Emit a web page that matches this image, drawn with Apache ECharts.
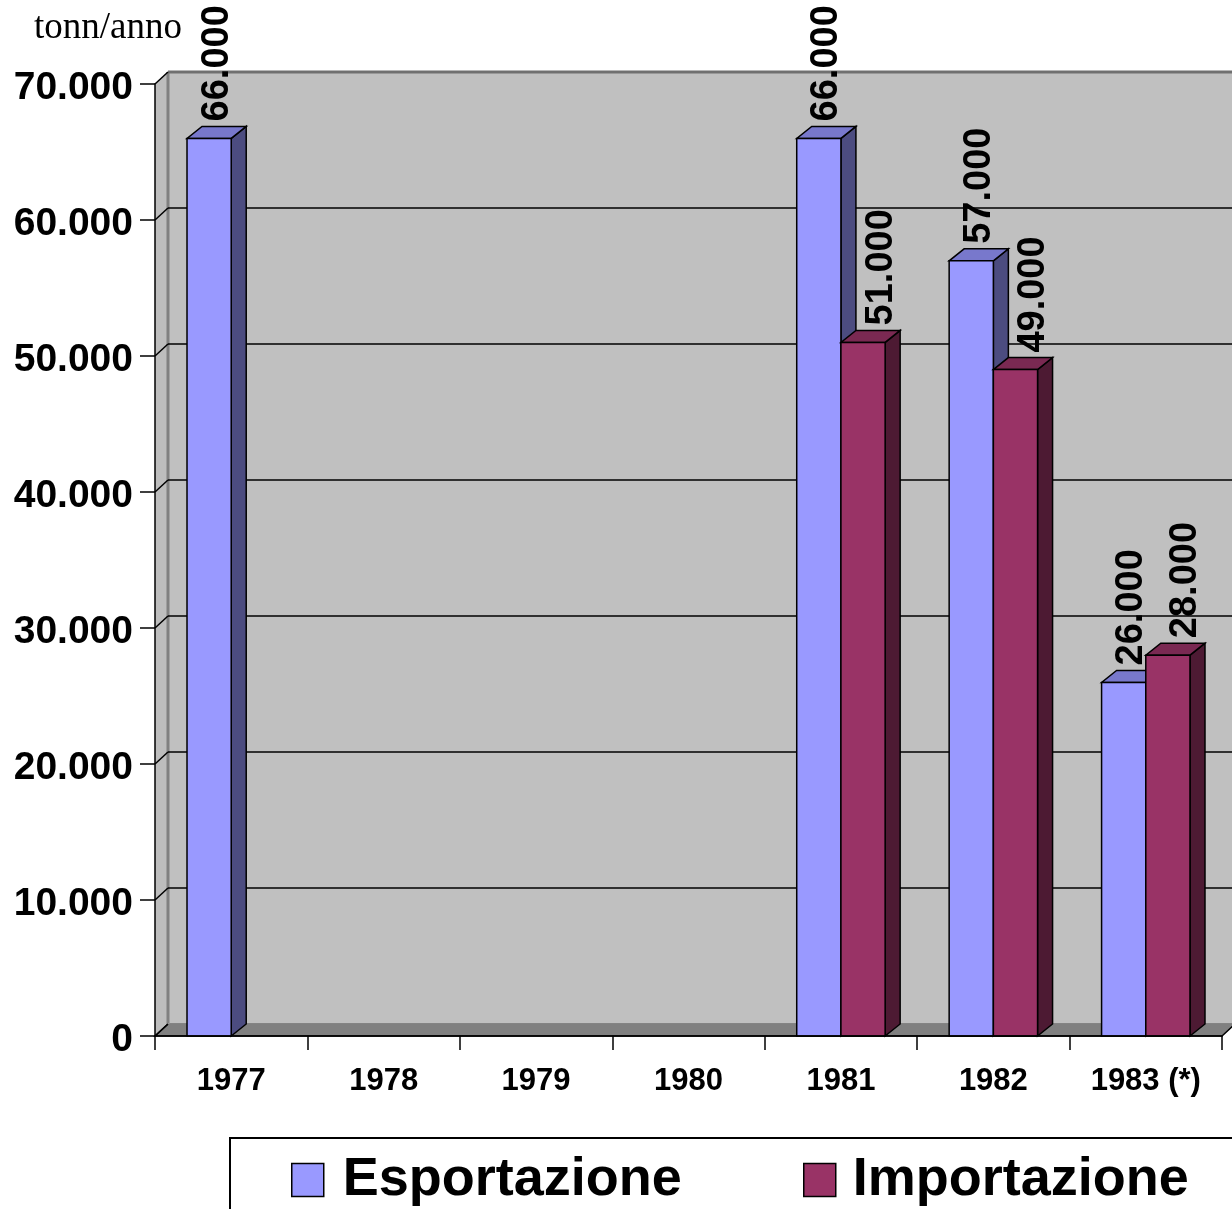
<!DOCTYPE html>
<html>
<head>
<meta charset="utf-8">
<title>Esportazione / Importazione</title>
<script src="https://cdn.jsdelivr.net/npm/echarts@6/dist/echarts.min.js"></script>
<style>
  html, body { margin: 0; padding: 0; background: #fff; overflow: hidden; }
  #chart { width: 1232px; height: 1209px; }
</style>
</head>
<body>
<div id="chart"></div>
<script>
// Annual tonnage by year
const categories = ['1977', '1978', '1979', '1980', '1981', '1982', '1983 (*)'];
const esportazione = [66000, null, null, null, 66000, 57000, 26000];
const importazione = [null, null, null, null, 51000, 49000, 28000];
const yTicks = [0, 10000, 20000, 30000, 40000, 50000, 60000, 70000];
const unitLabel = 'tonn/anno';

const SANS = '"Liberation Sans", Arial, sans-serif';
const SERIF = '"Liberation Serif", "Times New Roman", serif';

// depth of the walls and of the boxes (pseudo 3D)
const WALL_DX = 13, WALL_DY = -12;
const BAR_DX = 15, BAR_DY = -12;
const BAR_FRAC = 0.29;

const palette = {
  esp: { front: '#9999ff', top: '#7878cc', side: '#4c4c80' },
  imp: { front: '#993366', top: '#7a2952', side: '#4d1a33' }
};

// Italian thousands separator
function fmt(v) {
  return String(v).replace(/\B(?=(\d{3})+(?!\d))/g, '.');
}

function toPairs(arr) {
  const out = [];
  arr.forEach((v, i) => { if (v != null) out.push([i, v]); });
  return out;
}

// Walls, floor and the grid lines on the back wall
function renderFrame(params, api) {
  const cs = params.coordSys;
  const xl = cs.x, xr = cs.x + cs.width;
  const y0 = api.coord([0, yTicks[0]])[1];
  const yMax = api.coord([0, yTicks[yTicks.length - 1]])[1];
  const children = [];
  // back wall
  children.push({
    type: 'polygon',
    shape: { points: [[xl + WALL_DX, yMax + WALL_DY], [xr + WALL_DX, yMax + WALL_DY], [xr + WALL_DX, y0 + WALL_DY], [xl + WALL_DX, y0 + WALL_DY]] },
    style: { fill: '#c0c0c0' }
  });
  // side wall
  children.push({
    type: 'polygon',
    shape: { points: [[xl, y0], [xl, yMax], [xl + WALL_DX, yMax + WALL_DY], [xl + WALL_DX, y0 + WALL_DY]] },
    style: { fill: '#bdbdbd' }
  });
  // floor
  children.push({
    type: 'polygon',
    shape: { points: [[xl, y0], [xr, y0], [xr + WALL_DX, y0 + WALL_DY], [xl + WALL_DX, y0 + WALL_DY]] },
    style: { fill: '#808080', stroke: '#000', lineWidth: 1.5 }
  });
  // inner corner edges
  children.push({
    type: 'line',
    shape: { x1: xl + WALL_DX, y1: yMax + WALL_DY, x2: xl + WALL_DX, y2: y0 + WALL_DY },
    style: { stroke: '#808080', lineWidth: 3 }
  });
  children.push({
    type: 'line',
    shape: { x1: xl + WALL_DX, y1: y0 + WALL_DY, x2: xr + WALL_DX, y2: y0 + WALL_DY },
    style: { stroke: '#a0a0a0', lineWidth: 1.5 }
  });
  yTicks.forEach((t, k) => {
    const y = api.coord([0, t])[1];
    const isTop = k === yTicks.length - 1;
    if (t !== 0) {
      children.push({
        type: 'line',
        shape: { x1: xl + WALL_DX, y1: y + WALL_DY, x2: xr + WALL_DX, y2: y + WALL_DY },
        style: { stroke: isTop ? '#707070' : '#000', lineWidth: isTop ? 3 : 1.5 }
      });
    }
    children.push({
      type: 'line',
      shape: { x1: xl, y1: y, x2: xl + WALL_DX, y2: y + WALL_DY },
      style: { stroke: '#000', lineWidth: 1.5 }
    });
  });
  return { type: 'group', children: children };
}

// Box-shaped bars with a value label standing on top
function makeBarRenderer(side, col) {
  return function (params, api) {
    const idx = api.value(0), v = api.value(1);
    const top = api.coord([idx, v]);
    const base = api.coord([idx, 0]);
    const w = api.size([1, 0])[0] * BAR_FRAC;
    const x0 = side === 0 ? top[0] - w : top[0];
    const x1 = x0 + w;
    const yt = top[1], yb = base[1];
    const edge = { stroke: '#000', lineWidth: 1.5, lineJoin: 'miter' };
    return {
      type: 'group',
      children: [
        {
          type: 'polygon',
          shape: { points: [[x1, yt], [x1 + BAR_DX, yt + BAR_DY], [x1 + BAR_DX, yb + BAR_DY], [x1, yb]] },
          style: Object.assign({ fill: col.side }, edge)
        },
        {
          type: 'polygon',
          shape: { points: [[x0, yt], [x1, yt], [x1 + BAR_DX, yt + BAR_DY], [x0 + BAR_DX, yt + BAR_DY]] },
          style: Object.assign({ fill: col.top }, edge)
        },
        {
          type: 'rect',
          shape: { x: x0, y: yt, width: w, height: yb - yt },
          style: Object.assign({ fill: col.front }, edge)
        },
        {
          type: 'text',
          x: (x0 + x1) / 2 + (side === 0 ? 8 : 18),
          y: yt - 17,
          rotation: Math.PI / 2,
          z2: 100,
          style: {
            text: fmt(v),
            fill: '#000',
            font: 'bold 38px ' + SANS,
            align: 'left',
            verticalAlign: 'middle'
          }
        }
      ]
    };
  };
}

const chart = echarts.init(document.getElementById('chart'), null, { renderer: 'canvas' });

chart.setOption({
  backgroundColor: '#ffffff',
  animation: false,
  title: {
    text: unitLabel,
    left: 29,
    top: 5,
    textStyle: { fontFamily: SERIF, fontWeight: 'normal', fontSize: 37, color: '#000' }
  },
  grid: { left: 155, right: 10, top: 84, bottom: 173 },
  xAxis: {
    type: 'category',
    data: categories,
    z: 10,
    axisLine: { show: true, lineStyle: { color: '#000', width: 1.5 } },
    axisTick: { show: true, interval: 0, length: 14, lineStyle: { color: '#000', width: 1.5 } },
    axisLabel: { interval: 0, margin: 30, fontFamily: SANS, fontWeight: 'bold', fontSize: 31, color: '#000' },
    splitLine: { show: false }
  },
  yAxis: {
    type: 'value',
    min: 0,
    max: 70000,
    interval: 10000,
    z: 10,
    axisLine: { show: true, lineStyle: { color: '#000', width: 1.5 } },
    axisTick: { show: true, length: 15, lineStyle: { color: '#000', width: 1.5 } },
    axisLabel: {
      margin: 22,
      color: '#000',
      formatter: v => '{n|' + fmt(v) + '}',
      rich: {
        n: { fontFamily: SANS, fontWeight: 'bold', fontSize: 39, color: '#000', padding: [8, 0, 0, 0] }
      }
    },
    splitLine: { show: false }
  },
  legend: [
    {
      data: [{ name: 'Esportazione', icon: 'rect', itemStyle: { color: palette.esp.front, borderColor: '#000', borderWidth: 1.5 } }],
      left: 286, top: 1148, itemWidth: 32, itemHeight: 33, selectedMode: false,
      textStyle: { fontFamily: SANS, fontWeight: 'bold', fontSize: 54, color: '#000', padding: [0, 0, 0, 14] }
    },
    {
      data: [{ name: 'Importazione', icon: 'rect', itemStyle: { color: palette.imp.front, borderColor: '#000', borderWidth: 1.5 } }],
      left: 798, top: 1148, itemWidth: 32, itemHeight: 33, selectedMode: false,
      textStyle: { fontFamily: SANS, fontWeight: 'bold', fontSize: 54, color: '#000', padding: [0, 0, 0, 12] }
    }
  ],
  graphic: [
    {
      type: 'rect',
      z: -1,
      shape: { x: 230, y: 1138, width: 1100, height: 200 },
      style: { fill: '#fff', stroke: '#000', lineWidth: 2 }
    }
  ],
  series: [
    {
      name: 'frame',
      type: 'custom',
      z: 1,
      silent: true,
      renderItem: renderFrame,
      data: [[0, 0]]
    },
    {
      name: 'Esportazione',
      type: 'custom',
      z: 2,
      itemStyle: { color: palette.esp.front },
      renderItem: makeBarRenderer(0, palette.esp),
      encode: { x: 0, y: 1 },
      data: toPairs(esportazione)
    },
    {
      name: 'Importazione',
      type: 'custom',
      z: 2,
      itemStyle: { color: palette.imp.front },
      renderItem: makeBarRenderer(1, palette.imp),
      encode: { x: 0, y: 1 },
      data: toPairs(importazione)
    }
  ]
});
</script>
</body>
</html>
